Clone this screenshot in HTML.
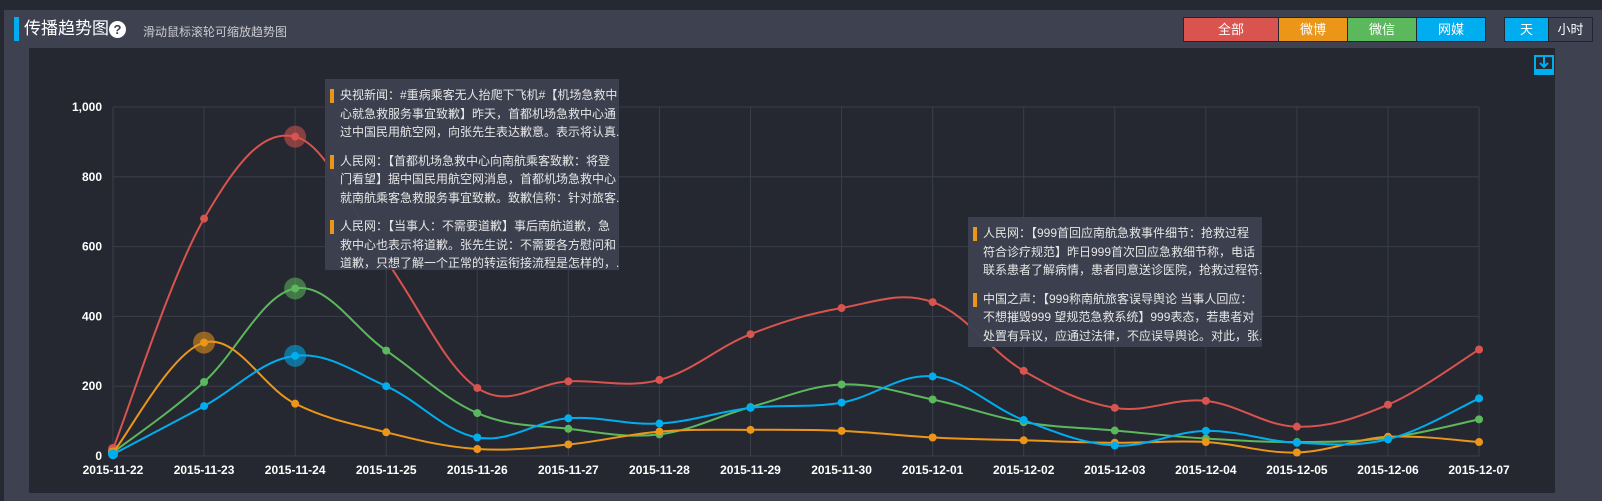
<!DOCTYPE html>
<html style="margin:0;padding:0;overflow:hidden;width:1602px;height:501px"><head><meta charset="utf-8"><style>
body{margin:0;width:1602px;height:501px;background:#262932;overflow:hidden;font-family:"Liberation Sans","Noto Sans CJK SC",sans-serif}
#wrap{position:relative;width:1602px;height:501px;overflow:hidden}
.panel{position:absolute;left:4px;top:10px;right:0;bottom:0;background:#3d4150}
.chart{position:absolute;left:29px;top:48px;width:1526px;height:445px;background:#252831}
.btn{position:absolute;top:17px;height:23px;line-height:23px;text-align:center;color:#fff;font-size:13px;border:1px solid #23262e}
.tip{position:absolute;background:rgba(61,65,80,0.97);color:#e6e6e6;font-size:12px;line-height:18.5px;padding:7px 4px 4px 15px;box-sizing:border-box;white-space:nowrap;overflow:hidden}
.tip p{margin:0 0 10px 0;position:relative}
.tip p:before{content:"";position:absolute;left:-10px;top:3px;width:4px;height:14px;background:#ec9619}
</style></head><body><div id="wrap">
<div class="panel"></div>
<div style="position:absolute;left:14px;top:17px;width:5px;height:24px;background:#00aeef"></div>
<div style="position:absolute;left:24px;top:17px;font-size:17px;color:#fff;line-height:24px">传播趋势图</div>
<div style="position:absolute;left:109px;top:21px;width:17px;height:17px;border-radius:50%;background:#fff;color:#3d4150;font-weight:bold;font-size:13px;text-align:center;line-height:17px">?</div>
<div style="position:absolute;left:143px;top:23px;font-size:12px;color:#ccc">滑动鼠标滚轮可缩放趋势图</div>
<div class="btn" style="left:1183px;width:94px;background:#d9534f">全部</div>
<div class="btn" style="left:1278px;width:68px;background:#ec9619">微博</div>
<div class="btn" style="left:1347px;width:68px;background:#5cb85c">微信</div>
<div class="btn" style="left:1416px;width:68px;background:#00aeef">网媒</div>
<div class="btn" style="left:1504px;width:43px;background:#00aeef">天</div>
<div class="btn" style="left:1548px;width:43px;background:#3d4150">小时</div>
<div class="chart"></div>
<svg style="position:absolute;left:0;top:0" width="1602" height="501">
<g fill="none" stroke="#00aeef" stroke-width="2"><rect x="1535" y="56" width="18" height="18"/></g>
<rect x="1535" y="69" width="19" height="6" fill="#00aeef"/>
<line x1="1544" y1="57" x2="1544" y2="66" stroke="#00aeef" stroke-width="2"/>
<path d="M1540 63 L1544 67 L1548 63" fill="none" stroke="#00aeef" stroke-width="2"/>
<g id="grid" stroke="#3a3e4a" stroke-width="1"></g>
<g id="lab" fill="#fff" font-size="12" font-weight="bold" font-family="Liberation Sans, sans-serif"></g>
<g id="ser"></g>
</svg>
<div class="tip" style="left:325px;top:79px;width:294px;height:191px">
<p>央视新闻：#重病乘客无人抬爬下飞机#【机场急救中<br>心就急救服务事宜致歉】昨天，首都机场急救中心通<br>过中国民用航空网，向张先生表达歉意。表示将认真..</p>
<p>人民网：【首都机场急救中心向南航乘客致歉：将登<br>门看望】据中国民用航空网消息，首都机场急救中心<br>就南航乘客急救服务事宜致歉。致歉信称：针对旅客..</p>
<p>人民网：【当事人：不需要道歉】事后南航道歉，急<br>救中心也表示将道歉。张先生说：不需要各方慰问和<br>道歉，只想了解一个正常的转运衔接流程是怎样的，..</p>
</div>
<div class="tip" style="left:968px;top:217px;width:294px;height:130px">
<p>人民网：【999首回应南航急救事件细节：抢救过程<br>符合诊疗规范】昨日999首次回应急救细节称，电话<br>联系患者了解病情，患者同意送诊医院，抢救过程符.</p>
<p>中国之声：【999称南航旅客误导舆论 当事人回应：<br>不想摧毁999 望规范急救系统】999表态，若患者对<br>处置有异议，应通过法律，不应误导舆论。对此，张.</p>
</div>
</div>
<script>
var X0=113,DX=91.07,Y0=456,K=0.349;
var ns="http://www.w3.org/2000/svg";
function el(p,t,a,txt){var e=document.createElementNS(ns,t);for(var k in a)e.setAttribute(k,a[k]);if(txt)e.textContent=txt;p.appendChild(e);return e;}
var g=document.getElementById('grid'),l=document.getElementById('lab'),s=document.getElementById('ser');
for(var i=0;i<16;i++){var x=X0+i*DX;el(g,'line',{x1:x,y1:107,x2:x,y2:Y0});}
for(var v=0;v<=1000;v+=200){var y=Y0-v*K;el(g,'line',{x1:X0,y1:y,x2:X0+15*DX,y2:y});el(l,'text',{x:102,y:y+4,'text-anchor':'end'},v==1000?'1,000':String(v));}
var d=['2015-11-22','2015-11-23','2015-11-24','2015-11-25','2015-11-26','2015-11-27','2015-11-28','2015-11-29','2015-11-30','2015-12-01','2015-12-02','2015-12-03','2015-12-04','2015-12-05','2015-12-06','2015-12-07'];
d.forEach(function(t,i){el(l,'text',{x:X0+i*DX,y:474,'text-anchor':'middle'},t);});
var S=[
['#d9534f',[20,680,915,560,195,214,218,349,424,441,244,138,158,84,147,305],[2]],
['#5cb85c',[10,212,480,302,123,78,62,140,205,162,97,73,50,40,52,105],[2]],
['#ec9619',[10,325,150,68,20,33,70,75,72,53,45,38,40,10,55,40],[1]],
['#00aeef',[5,143,287,200,53,108,93,138,153,228,103,30,72,38,48,165],[2]]];
S.forEach(function(sr){var c=sr[0],p=sr[1].map(function(v,i){return [X0+i*DX,Y0-v*K];});
var dd='M'+p[0][0]+' '+p[0][1];
for(var i=0;i<p.length-1;i++){var a=p[Math.max(i-1,0)],b=p[i],c2=p[i+1],e=p[Math.min(i+2,p.length-1)],t=0.18;
dd+=' C'+(b[0]+(c2[0]-a[0])*t)+' '+(b[1]+(c2[1]-a[1])*t)+' '+(c2[0]-(e[0]-b[0])*t)+' '+(c2[1]-(e[1]-b[1])*t)+' '+c2[0]+' '+c2[1];}
el(s,'path',{d:dd,fill:'none',stroke:c,'stroke-width':2});
p.forEach(function(q,i){if(sr[2].indexOf(i)>=0)el(s,'circle',{cx:q[0],cy:q[1],r:11,fill:c,'fill-opacity':0.55});el(s,'circle',{cx:q[0],cy:q[1],r:(i==0?5:4),fill:c});});
});
</script>
</body></html>
